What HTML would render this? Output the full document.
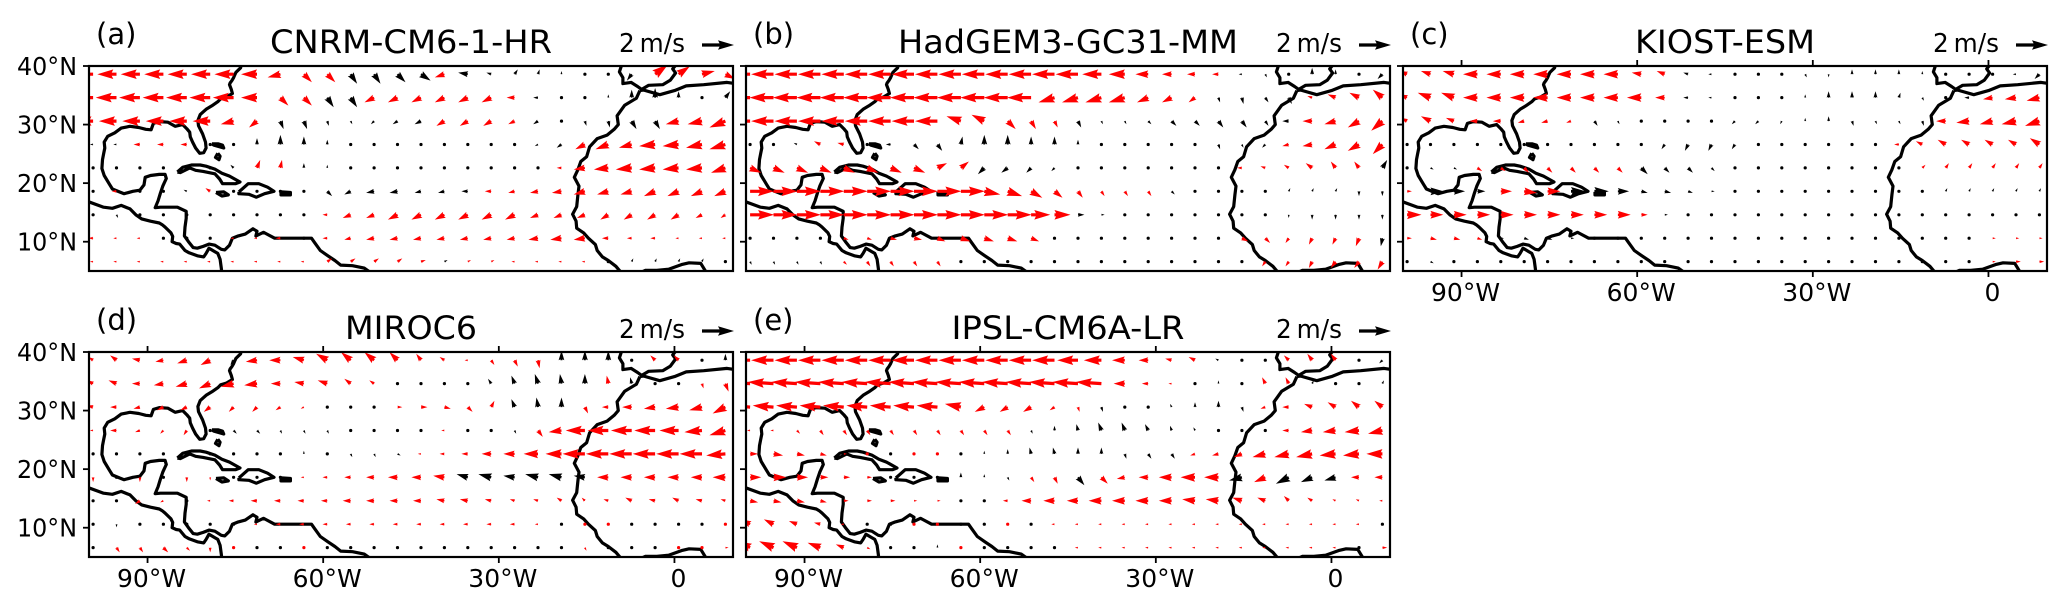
<!DOCTYPE html>
<html><head><meta charset="utf-8"><style>
html,body{margin:0;padding:0;background:#fff}
svg{display:block}
text{font-family:"DejaVu Sans","Liberation Sans",sans-serif;fill:#000}
</style></head><body>
<svg id="fig" width="2067" height="607" viewBox="0 0 2067 607" xmlns="http://www.w3.org/2000/svg"></svg>
<script>
// ---- data ----
const panelLetters = ["(a)","(b)","(c)","(d)","(e)"];
const panelTitles = ["CNRM-CM6-1-HR","HadGEM3-GC31-MM","KIOST-ESM","MIROC6","IPSL-CM6A-LR"];
const titleWidths = [282,340,180,132,233];
const gridLats = [38.6,34.6,30.6,26.6,22.6,18.6,14.6,10.6,6.6];
const gridLon0 = -99.3;
const gridStep = 4;
const xTickLons = [-90,-60,-30,0];
const xTickLabels = ["90°W","60°W","30°W","0"];
const yTickLats = [40,30,20,10];
const yTickLabels = ["40°N","30°N","20°N","10°N"];
// wind vectors, tokens "u,v,flag" in 0.1 m/s (r = significant/red, k = black), "." = calm
const windA = [
"-12,0,r -12,0,r -12,0,r -12,0,r -12,0,r -12,0,r -12,0,r -10,0,r -8,-2,r 5,-5,r 5,-5,r 4,-6,k 4,-6,k 5,-5,k 6,-4,k -6,-2,r -6,1,k -3,1,k 2,3,k 1,3,k 0,2,k 0,1,k 1,-1,k -3,-4,k 8,6,r 7,5,r 8,2,r 6,-3,r",
"-13,0,r -13,0,r -13,0,r -13,0,r -13,0,r -13,0,r -13,0,r -10,0,r 5,-5,r 5,-5,r 4,-6,k 4,-6,k -6,-3,r -6,-3,r -6,-3,r -6,-3,r -6,-3,r -6,-3,r -5,0,r -3,0,k -1,0,k . 0,2,k 0,5,k 0,6,k 0,4,k . 3,4,k",
"-11,0,r -11,0,r -11,0,r -11,0,r -11,0,r -11,0,r -8,-2,r -5,-4,r 2,-5,k 2,-5,k 1,-3,k 1,-2,k -2,-2,k -3,-2,k -4,-2,k -5,-3,r -5,-3,r -5,-3,r -4,-2,r -3,-2,k -1,-1,k 1,-3,k 1,-4,k 3,-5,k 3,-5,k -8,-2,r -9,-2,r -10,-4,r",
"-2,0,k -2,0,k -4,0,r -4,0,r -4,0,r . . 0,4,k 0,6,k 0,5,k 0,3,k . . . . . 1,-1,k 1,-1,k . -2,-1,k -3,-2,k -6,-3,r -8,-3,r -8,-2,r -10,-1,r -10,-1,r -10,-2,r -10,-3,r",
". . . . . -1,1,k -2,2,k 2,5,r 1,5,r 0,3,k 0,2,k . . . . . . . . . -3,0,r -7,-1,r -9,-1,r -10,-1,r -10,-1,r -10,-1,r -10,-1,r -9,-3,r",
". -3,0,r . . -2,1,k -3,2,r . . . . 3,-3,k -4,-2,k -5,-1,k -5,-1,k -4,-1,k -4,-1,k -4,0,k -4,0,r -4,-1,r -5,-1,r -6,-1,r -7,-2,r -7,-2,r -7,-2,r -7,-3,r -7,-3,r -7,-3,r -7,-3,r",
". 1,-2,k . . . . . . . . -3,0,r -5,-2,r -5,-2,r -6,-3,r -6,-3,r -6,-3,r -6,-3,r -6,-3,r -6,-3,r -5,-2,r -5,-2,r -5,-2,r -5,-3,r -5,-3,r -5,-3,r -5,-3,r -4,-2,r -3,-2,r",
"-3,0,r -2,0,r -2,0,r . . . -2,0,r -2,0,r -3,0,r . -3,0,r -4,-1,r -5,-1,r -5,-1,r -5,-1,r -5,-1,r -5,-1,r -5,-1,r -5,-1,r -6,-1,r -7,-1,r -7,-1,r -4,0,r -3,0,r -3,0,r -2,0,r -2,0,r -2,0,r",
"-2,0,r -2,0,r -2,0,r -2,0,r -2,0,r -2,0,r -2,0,r -2,0,r -2,0,r -2,0,r 3,2,r 3,2,r 3,2,r 3,2,r 3,1,r 2,1,k 2,1,r 2,1,r -2,0,r -2,0,r -2,0,r -2,0,r . 1,2,k 1,2,k 1,2,k 1,2,k 1,1,k"];
const windB = [
"-14,0,r -14,0,r -14,0,r -14,0,r -14,0,r -14,0,r -14,0,r -14,0,r -14,0,r -14,0,r -14,0,r -14,0,r -14,0,r -14,0,r -14,0,r -12,0,r -10,0,r -8,0,r -6,0,r -5,0,r -4,0,r -2,0,k 1,-2,k . 0,4,k 0,3,k . -3,-3,k",
"-15,0,r -15,0,r -15,0,r -15,0,r -15,0,r -15,0,r -15,0,r -15,0,r -15,0,r -15,0,r -15,0,r -15,0,r -15,0,r -10,-3,r -10,-3,r -10,-3,r -10,-3,r -7,-3,r -6,-3,r -4,-3,r 1,-3,k 1,-4,k 2,-3,k 2,-4,k -3,1,r -5,2,r -6,3,r -6,5,r",
"-14,0,r -14,0,r -14,0,r -14,0,r -14,0,r -14,0,r -14,0,r -14,0,r -14,0,r -9,3,r -8,4,r 5,-5,r 3,-5,r 2,-4,r 2,-4,k 1,-2,k 1,-2,k 2,-2,k 3,-3,k 3,-3,k 3,-4,k 3,-4,k 2,-3,k -4,0,k -6,0,r -7,-2,r -7,-4,r -7,-6,r",
". . -2,1,k -4,2,r -4,1,r . -3,0,k 3,-3,k 3,-4,k 1,5,k 0,6,k 0,6,k 0,5,k 0,5,k 0,3,k . . . . . 1,-3,k 1,-2,k -2,-2,k -4,-1,r -6,-1,r -7,-3,r -7,-4,r -6,-6,r",
"7,-3,r 7,-3,r 7,-3,r 7,-3,r 7,-3,r 7,-3,r 7,-3,r 7,-3,r 6,3,r 5,4,r -4,-4,k -4,-3,k -3,-3,k -2,-2,k -1,-1,k . . . . . . -3,0,r -3,1,r -3,2,r -4,3,r -3,4,r -3,4,r 3,5,k",
"15,0,r 15,0,r 15,0,r 15,0,r 15,0,r 15,0,r 15,0,r 15,0,r 15,0,r 15,0,r 10,-2,r 9,-3,r 7,-4,r 5,-4,r 3,-4,r 2,-3,r 2,-3,r 2,-3,r 2,-2,k . . . . 1,2,k 1,2,k 1,2,k 0,-3,k 0,-3,k",
"15,0,r 15,0,r 15,0,r 15,0,r 15,0,r 15,0,r 15,0,r 15,0,r 15,0,r 15,0,r 15,0,r 15,0,r 12,0,r 10,0,r 4,0,k 2,0,k . . . . . . . 0,-2,k 0,-3,k 0,-3,k 0,-3,k 0,-3,k",
"1,-1,k 1,-1,k 1,-1,k 1,-1,k 3,-1,r 3,-1,r 4,-1,r 5,-1,r 5,-2,r 6,-2,r 6,-2,r 6,-2,r 5,-2,r . . . . . . . . 4,-2,r 3,-3,r -2,-3,r -2,-4,r -2,-4,r -2,-5,r -1,-5,k",
"1,-2,k 1,-2,k 1,-2,k 1,-2,k 2,-2,r 2,-3,r 2,-3,r 2,-3,r 2,-3,r . . . . . . . . . . . . . -2,-3,r -2,-3,r -2,-4,r -3,-4,r -3,-4,r -3,-5,r"];
const windC = [
"-5,2,r -6,2,r -7,2,r -9,0,r -9,0,r -9,0,r -9,0,r -9,0,r -9,0,r -9,0,r -6,1,r -5,2,r -3,1,k -2,0,k . 1,-1,k 1,-1,k 1,-2,k 0,-2,k 0,3,k 0,3,k 0,3,k 0,2,k . 0,1,k . -2,0,k -3,-3,k",
"-5,2,r -8,3,r -8,3,r -9,0,r -9,0,r -9,0,r -9,0,r -9,0,r -9,0,r -9,0,r -9,0,r -6,0,r -3,0,k -2,0,k 1,-1,k . . 0,2,k 0,4,k 0,4,k 0,4,k 1,3,k 1,-2,k . -3,0,k -6,-1,r -7,-1,r -8,-2,r",
"-4,2,r -6,3,r -5,2,r -5,0,r -5,0,r -4,-1,r -4,-1,r -3,-1,r 2,-3,k 1,-2,k . . -1,-1,k -1,-1,k -2,-2,k -2,-2,k -1,-2,k 0,2,k 0,3,k 1,-3,k 1,-2,k 1,-2,k 1,-3,k -6,0,r -8,-1,r -8,-2,r -9,-2,r -9,-3,r",
". . . . . . . . . . -1,-1,k -2,-3,k -2,-4,k -2,-4,k -2,-3,k . . . . . . -3,0,r -4,2,r -5,3,r -5,3,r -5,3,r -5,3,r -6,4,r",
". 2,-1,k 2,-1,k 3,-2,r 3,-2,r 3,-3,r 3,-3,r 3,-3,r 3,-3,r 3,-3,r 4,-4,k 3,-3,k 3,-3,k 2,-2,k . . . . . . . . 2,2,r 2,3,r 2,3,r 2,3,r 2,3,r 2,3,r",
"3,0,r 8,0,k 7,0,k 5,0,k 7,0,r 8,-1,r 8,0,r 9,0,k 9,0,k 7,0,k 4,-1,k 4,-1,k 3,-1,k 2,0,k . . . . . . . . 0,1,k 1,2,k 1,2,k 1,2,k 1,2,k 1,2,k",
"9,0,r 8,0,r 8,0,r 8,0,r 8,0,r 8,0,r 8,0,r 8,0,r 8,0,r 8,0,r 4,0,r 2,0,k . . . . . . . . . . . . . . . .",
"3,0,r 4,-1,r 4,-1,r 3,-1,r 2,0,k 3,-1,k 3,-1,k 2,0,k 1,0,k . . . . . . . . . . . . . . . . 2,0,r 2,0,r 2,0,r",
"1,-1,k 2,-1,k . . . . . . . . . . . . . . . . . . . . . . . 2,0,r 3,0,r 3,0,r"];
const windD = [
"-3,2,r -4,3,r -5,1,r -5,-1,r -6,-2,r -6,-3,r -2,-3,k -7,-1,r -7,0,r -7,2,r -7,4,r -6,5,r -6,5,r -5,5,r -3,4,r -3,2,r -2,0,r 2,-3,r 2,-4,r 1,-5,r 0,6,k 0,6,k 0,6,k . -3,3,r -3,3,r . 0,4,k",
"-4,2,r -5,2,r -5,0,r -6,-1,r -7,-2,r -7,-3,r -8,-2,r -8,-1,r -6,0,r -6,1,r -6,2,r -4,3,r -3,2,r -1,-1,k . . . -2,3,k -2,5,k -2,6,k -1,6,k 0,6,k -1,5,r -1,4,k . . 1,-3,r 2,-5,r",
"-4,1,r -4,0,r -4,-1,r -4,-2,r -4,-2,r -4,-3,r -3,-3,r -3,-3,r -3,-2,r -2,-1,r . . . 3,0,r 4,0,r 4,-1,r 3,-3,r 2,4,r -2,5,k -1,6,k 0,6,k 2,-4,r -4,0,r -6,0,r -7,-1,r -8,-1,r -8,-2,r -8,-4,r",
"-2,0,r -4,0,r -3,-1,r -2,-2,r -2,-3,r . 2,-2,k 2,-2,k 1,-2,k 1,-2,k 1,-2,k . . . . -2,0,r . . 1,-2,k 3,-4,r -8,-1,r -12,0,r -13,0,r -13,0,r -13,0,r -12,0,r -11,-1,r -10,-3,r",
". . 1,-1,k . . . . . . 0,2,k . 1,-2,k 1,-2,k 2,-1,k -2,0,r -3,0,r -4,0,r -6,0,r -7,0,r -9,0,r -10,0,r -14,0,r -14,0,r -14,0,r -14,0,r -14,0,r -14,0,r -12,-1,r",
"0,-3,r . 0,-3,r . 0,-3,r 0,-2,r . . . -2,0,r -3,0,r -4,0,r -5,0,r -6,0,r -6,0,r -7,1,r -7,2,k -8,2,k -7,1,k -8,2,k -8,2,k -7,1,k -7,0,r -7,0,r -7,0,r -7,0,r -7,0,r -8,0,r",
". . -3,-2,r -2,-1,r . -2,0,r -3,0,r -4,0,r -4,0,r -4,0,r -4,0,r -5,0,r -5,0,r -5,0,r -5,0,r -5,1,r -5,1,r -4,1,r -3,1,r -3,1,r -3,2,r -2,2,r -3,1,r -4,2,r -4,1,r -4,2,r -4,1,r -3,1,r",
". 0,-2,k . . . . . -2,0,r -3,0,r -3,0,r -3,0,r -3,0,r -3,0,r -3,0,r -3,0,r -3,0,r -3,0,r -3,0,r -3,0,r -2,0,r . -1,0,r -1,0,r . . . . -1,0,r",
". 2,-3,r 2,-3,r 3,-3,r 2,-2,r 0,-3,r -1,0,r . . -1,0,r . . . . . . . . . . . 1,-2,r . . . -1,0,r -1,0,r 2,0,r"];
const windE = [
"-14,0,r -14,0,r -14,0,r -14,0,r -14,0,r -14,0,r -14,0,r -14,0,r -14,0,r -14,0,r -14,0,r -14,0,r -14,0,r -14,0,r -13,0,r -11,0,r -8,0,r -6,0,r -4,1,r -4,2,r -2,1,k . . -3,3,r -3,4,r -3,4,r . -2,-2,k",
"-16,1,r -16,1,r -16,1,r -16,1,r -16,1,r -16,1,r -16,1,r -16,1,r -16,1,r -16,1,r -16,1,r -16,1,r -16,1,r -16,1,r -16,1,r -16,1,r -7,0,r -4,0,r -2,0,r . 0,2,k . -2,4,r -2,4,r 1,2,k . . 1,2,k",
"-13,1,r -13,1,r -13,1,r -13,1,r -13,1,r -13,1,r -13,1,r -13,1,r -13,1,r -10,2,r -6,-3,r -5,-3,r -5,-3,r -3,-2,r 1,-3,r 1,-3,k . . -1,2,k 0,3,k 0,4,k 1,-3,k -3,-1,r -4,0,r -5,2,r -5,3,r -5,4,r -5,4,r",
"-2,0,r -2,0,r 2,-2,r 2,-3,r 2,-3,r 2,-3,r 2,-3,r 2,-3,r 2,-3,r 2,-3,r 2,-3,r 2,-3,r 1,-2,k 0,3,k -1,4,k -2,5,k -2,5,k -2,4,k -1,3,k -1,2,k . . . -4,0,r -7,-1,r -8,-1,r -9,-1,r -9,-2,r",
"5,0,r 6,-1,r 5,-1,r 4,-1,r 2,0,r -1,0,r . 1,0,r 1,0,r . 0,2,k 0,3,k -1,4,k -1,4,k 0,4,k 0,4,k 1,-3,k 2,-3,k 2,-3,k -3,-1,r -4,-1,r -5,-2,r -8,-2,r -9,-2,r -10,-2,r -10,-1,r -10,-1,r -10,0,r",
"7,0,r 8,0,r 7,0,r 5,0,r 4,0,r 3,0,r . . . 0,3,k 0,2,k 1,-2,k 2,-3,r 2,-4,r 4,-5,k 4,-4,r -5,-1,r -6,0,r -8,0,r -9,0,r -9,0,r -8,-2,k -7,-3,r -8,-4,k -7,-3,k -7,-2,k -5,0,r -5,0,r",
"5,-1,r 5,-1,r 5,-1,r 4,-1,r 3,0,r 3,0,r 3,0,r 2,0,r 2,0,r . . -3,0,r -6,0,r -7,0,r -7,0,r -8,0,r -8,0,r -8,0,r -8,0,r -8,1,r -8,1,r -6,2,r -5,2,r -3,3,r -3,2,r -2,1,r -2,1,r -2,0,r",
"-6,3,r -6,3,r -5,2,r -4,1,r -2,0,r . . -1,0,r -1,0,r . . -1,0,r . -2,0,r -2,0,r -2,0,r -2,0,r -2,0,r -2,0,r -2,0,r -2,0,r -2,0,r -2,0,r -2,0,r -2,0,r -2,0,r -2,0,r .",
"-8,4,r -9,4,r -9,4,r -8,3,r -5,2,r 2,-1,r . . 0,2,k -1,0,r . . . . -2,0,r -2,0,r -2,0,r -2,0,r -2,0,r -2,0,r -2,0,r -2,0,r -2,0,r -2,0,r -2,0,r -2,0,r . 3,0,r"];
const windSets = [windA, windB, windC, windD, windE];

// coastlines [lon,lat]
const coastAmericas = [[-73.9,40.6],[-74.0,40.2],[-74.1,39.7],[-74.9,38.9],[-75.1,38.5],[-75.3,38.0],[-75.6,37.5],[-75.9,37.1],[-76.0,36.8],[-75.7,36.0],[-75.5,35.3],[-76.5,34.7],[-77.5,34.4],[-78.0,33.9],[-79.0,33.2],[-80.0,32.6],[-81.0,31.7],[-81.4,30.7],[-81.3,29.8],[-80.6,28.4],[-80.1,27.0],[-80.0,26.0],[-80.4,25.2],[-81.1,25.1],[-81.8,26.0],[-82.3,27.0],[-82.7,27.9],[-82.8,28.7],[-83.3,29.3],[-84.0,30.0],[-85.3,29.7],[-86.5,30.4],[-88.0,30.5],[-89.0,30.2],[-89.4,29.1],[-90.3,29.2],[-91.5,29.5],[-93.0,29.7],[-94.5,29.4],[-95.6,28.6],[-96.8,28.0],[-97.4,27.0],[-97.3,26.0],[-97.5,25.0],[-97.7,24.0],[-97.8,22.5],[-97.4,21.3],[-96.5,19.8],[-96.0,19.0],[-94.8,18.5],[-94.0,18.2],[-92.5,18.6],[-91.3,18.8],[-90.6,19.7],[-90.4,21.0],[-89.5,21.3],[-88.0,21.5],[-87.0,21.5],[-86.8,20.8],[-87.4,19.5],[-87.8,18.3],[-88.2,17.0],[-88.7,15.8],[-87.8,15.9],[-86.0,15.9],[-84.9,15.9],[-83.4,15.2],[-83.4,14.0],[-83.6,12.5],[-83.7,11.0],[-83.0,10.0],[-82.2,9.0],[-81.5,8.9],[-80.5,9.2],[-79.5,9.6],[-78.5,9.4],[-77.4,8.7],[-76.8,8.6],[-76.0,9.4],[-75.5,10.6],[-74.5,11.0],[-73.3,11.3],[-72.0,12.2],[-71.3,11.8],[-71.5,11.0],[-70.2,11.6],[-69.8,11.4],[-68.3,10.6],[-66.0,10.6],[-64.0,10.6],[-62.0,10.6],[-61.5,9.9],[-60.5,8.5],[-59.2,7.6],[-58.0,6.8],[-57.0,6.0],[-55.0,5.9],[-53.0,5.5],[-52.0,4.8]];
const coastPacific = [[-100,16.8],[-97.5,15.9],[-96,15.7],[-94.5,16.2],[-93,15.6],[-92,14.6],[-91,13.9],[-89.5,13.5],[-88,13.2],[-87.5,12.9],[-87,12.5],[-86,11.5],[-85.7,10.9],[-85.8,10.0],[-85.1,9.7],[-84.5,9.6],[-83.6,8.5],[-82.9,8.1],[-81.5,7.6],[-80.4,7.4],[-80.0,8.0],[-79.5,8.9],[-78.5,8.3],[-78,8],[-77.6,7],[-77.4,5.5],[-77.3,4.5]];
const coastCuba = [[-84.9,21.9],[-84.0,22.7],[-82.5,23.1],[-81.0,23.1],[-80.0,22.9],[-78.5,22.4],[-77.3,21.7],[-76.0,21.2],[-74.2,20.2],[-75.0,19.9],[-77.2,19.9],[-77.7,20.7],[-78.5,21.6],[-80.5,22.0],[-81.8,22.2],[-82.8,22.6],[-84.4,21.8],[-84.9,21.9]];
const coastHispaniola = [[-74.4,18.5],[-72.8,19.9],[-71.0,19.9],[-69.5,19.3],[-68.4,18.6],[-70.0,18.2],[-71.4,17.6],[-72.7,18.1],[-74.4,18.2],[-74.4,18.5]];
const coastJamaica = [[-78.3,18.4],[-77.0,18.5],[-76.2,18.0],[-77.3,17.8],[-78.3,18.4]];
const coastPuertoRico = [[-67.2,18.5],[-65.6,18.4],[-65.6,18.0],[-67.2,18.0],[-67.2,18.5]];
const coastAndros = [[-78.0,25.1],[-77.6,24.6],[-77.8,24.0],[-78.4,24.4],[-78.0,25.1]];
const coastGrandBahama = [[-79.0,26.7],[-77.9,26.7],[-77.2,26.5],[-77.0,26.0],[-78.7,26.5],[-79.0,26.7]];
const coastAfrica = [[-5.9,35.8],[-6.5,34.5],[-8.5,33.3],[-9.8,31.5],[-9.6,30.0],[-10.3,29.2],[-11.5,28.2],[-13.2,27.6],[-14.5,26.2],[-15.0,24.5],[-16.0,23.7],[-16.5,22.3],[-17.1,21.0],[-16.3,19.5],[-16.5,18.0],[-16.7,16.0],[-17.4,14.7],[-16.8,13.5],[-16.7,12.3],[-15.5,11.5],[-14.7,10.6],[-13.5,9.5],[-13.2,8.5],[-12.3,7.4],[-11.3,6.8],[-10.0,5.8],[-9.0,4.6]];
const coastGuinea = [[-6.5,4.4],[-5,5.1],[-3,5.1],[-1,5.3],[1.2,6.1],[2.5,6.4],[4.5,6.3],[5.6,4.5]];
const coastMed = [[-5.9,35.8],[-5.3,35.9],[-2.5,35.1],[0,35.8],[2,36.6],[5,36.8],[9,37.2],[10.5,37.0]];
const coastIberia = [[-8.9,40.5],[-9.4,39.0],[-8.8,38.0],[-8.8,37.0],[-7.4,37.2],[-6.3,36.5],[-5.6,36.0],[-4.4,36.7],[-2.0,36.8],[-0.7,37.6],[0.2,38.8],[-0.3,39.5],[0.5,40.5]];
const coasts = [coastAmericas,coastPacific,coastCuba,coastHispaniola,coastJamaica,coastPuertoRico,coastAndros,coastGrandBahama,coastAfrica,coastGuinea,coastMed,coastIberia];

// ---- layout ----
const NS="http://www.w3.org/2000/svg";
const svg=document.getElementById('fig');
const PX=[89,746,1403,89,746], PY=[66,66,66,352,352];
const W=644, H=205, LON0=-100, LON1=10, LAT0=5, LAT1=40;
const PXPERMS = 16; // px per 1 m/s
function xs(p,lon){return PX[p]+(lon-LON0)/(LON1-LON0)*W;}
function ys(p,lat){return PY[p]+(LAT1-lat)/(LAT1-LAT0)*H;}
function mk(tag,attrs,parent){const e=document.createElementNS(NS,tag);for(const k in attrs)e.setAttribute(k,attrs[k]);(parent||svg).appendChild(e);return e;}

const defs=mk('defs',{});
for(let p=0;p<5;p++){
  const cp=mk('clipPath',{id:'clip'+p},defs);
  mk('rect',{x:PX[p],y:PY[p],width:W,height:H},cp);
}

function arrowPath(L,w){
  w=w||3.2;
  const hl=5*w, hal=4.5*w, hw=1.5*w;
  let s=1, len=L;
  if(L<hl){s=L/hl;len=hl;}
  const pts=[[0,-w/2],[len-hal,-w/2],[len-hl,-hw],[len,0],[len-hl,hw],[len-hal,w/2],[0,w/2]];
  return pts.map(q=>[q[0]*s,q[1]*s]);
}

for(let p=0;p<5;p++){
  const g=mk('g',{});
  
  
  // coastlines
  const cg=mk('g',{'clip-path':'url(#clip'+p+')'},g);
  
  
  coasts.forEach(c=>{
    const d='M'+c.map(q=>xs(p,q[0]).toFixed(1)+','+ys(p,q[1]).toFixed(1)).join('L');
    const path=mk('path',{d:d,fill:'none',stroke:'#000','stroke-width':3.2,'stroke-linejoin':'round'},cg);
    
    
  });
  // vectors
  const vg=mk('g',{'clip-path':'url(#clip'+p+')'},g);
  
  
  const rows=windSets[p];
  rows.forEach((row,ri)=>{
    const toks=row.trim().split(/\s+/);
    for(let ci=0;ci<28;ci++){
      const t=toks[ci]||'.';
      let u=0,v=0,c='k';
      if(t!=='.'){const a=t.split(',');u=+a[0]/10;v=+a[1]/10;c=a[2];}
      const x0=xs(p,gridLon0+ci*gridStep), y0=ys(p,gridLats[ri]);
      const col=c==='r'?'#ff0000':'#000';
      const L=Math.hypot(u,v)*PXPERMS;
      if(L<3.2){
        const dot=mk('circle',{cx:x0.toFixed(1),cy:y0.toFixed(1),r:1.6,fill:col},vg);
        
        
        continue;
      }
      const ang=Math.atan2(-v,u), ca=Math.cos(ang), sa=Math.sin(ang);
      const pts=arrowPath(L).map(q=>(x0+q[0]*ca-q[1]*sa).toFixed(1)+','+(y0+q[0]*sa+q[1]*ca).toFixed(1)).join(' ');
      const poly=mk('polygon',{points:pts,fill:col},vg);
      
      
    }
  });
  // frame
  const fr=mk('rect',{x:PX[p],y:PY[p],width:W,height:H,fill:'none',stroke:'#000','stroke-width':2.2},g);
  
  
  // y ticks
  yTickLats.forEach((lat,i)=>{
    const y=ys(p,lat);
    const tk=mk('line',{x1:PX[p]-6,x2:PX[p],y1:y,y2:y,stroke:'#000','stroke-width':1.8},g);
    
    
    if(p===0||p===3){
      const t=mk('text',{x:PX[p]-12,y:y+9,'font-size':25,'text-anchor':'end',textLength:60,lengthAdjust:'spacingAndGlyphs'},g);
      t.textContent=yTickLabels[i];
      
      
    }
  });
  // x ticks
  if(p>=2){
    xTickLons.forEach((lon,i)=>{
      const x=xs(p,lon);
      [[PY[p]-6,PY[p]],[PY[p]+H,PY[p]+H+6]].forEach(yy=>{
        const tk=mk('line',{x1:x,x2:x,y1:yy[0],y2:yy[1],stroke:'#000','stroke-width':1.8},g);
        
        
      });
      const t=mk('text',{x:x+4,y:PY[p]+H+30,'font-size':25,'text-anchor':'middle'},g);
      t.textContent=xTickLabels[i];
      
      
    });
  }
  // letter
  const lt=mk('text',{x:PX[p]+7,y:PY[p]-22,'font-size':29},g);
  lt.textContent=panelLetters[p];
  
  
  // title
  const tt=mk('text',{x:PX[p]+W/2,y:PY[p]-13,'font-size':32,'text-anchor':'middle',textLength:titleWidths[p],lengthAdjust:'spacingAndGlyphs'},g);
  tt.textContent=panelTitles[p];
  
  
  // reference arrow
  const rt=mk('text',{x:PX[p]+530,y:PY[p]-14,'font-size':26,textLength:66,lengthAdjust:'spacingAndGlyphs'},g);
  rt.textContent='2\u2009m/s';
  
  
  const ax=PX[p]+613, ay=PY[p]-21;
  const rp=arrowPath(2*PXPERMS).map(q=>(ax+q[0]).toFixed(1)+','+(ay+q[1]).toFixed(1)).join(' ');
  const ra=mk('polygon',{points:rp,fill:'#000'},g);
  
  
}
</script>
</body></html>
